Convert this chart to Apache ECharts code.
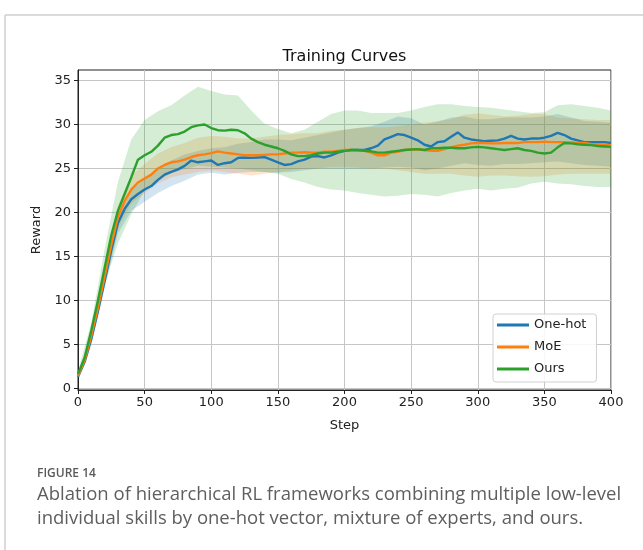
<!DOCTYPE html>
<html>
<head>
<meta charset="utf-8">
<script src="https://cdn.jsdelivr.net/npm/echarts@6.0.0/dist/echarts.min.js"></script>
<style>
html,body{margin:0;padding:0;background:#fff;}
#chart{width:643px;height:550px;}
</style>
</head>
<body>
<div id="chart"></div>
<script>
// ---- data ----
const steps = [0,5,10,15,20,25,30,35,40,45,50,55,60,65,70,75,80,85,90,95,100,105,110,115,120,125,130,135,140,145,150,155,160,165,170,175,180,185,190,195,200,205,210,215,220,225,230,235,240,245,250,255,260,265,270,275,280,285,290,295,300,305,310,315,320,325,330,335,340,345,350,355,360,365,370,375,380,385,390,395,400];
const oneHot = [1.3,3.0,5.6,8.8,12.2,15.7,18.8,20.4,21.5,22.1,22.6,23.0,23.7,24.3,24.6,24.9,25.3,25.9,25.7,25.8,25.9,25.4,25.6,25.7,26.2,26.25,26.2,26.25,26.3,26.0,25.7,25.4,25.5,25.8,26.0,26.35,26.4,26.25,26.5,26.8,27.0,27.1,27.1,27.1,27.3,27.6,28.3,28.6,28.9,28.8,28.5,28.2,27.7,27.5,28.0,28.1,28.6,29.1,28.5,28.3,28.2,28.1,28.15,28.2,28.4,28.7,28.4,28.3,28.4,28.4,28.5,28.7,29.05,28.8,28.4,28.2,28.0,28.0,28.0,28.0,27.9];
const moe = [1.4,3.2,6.0,9.2,12.7,16.3,19.5,21.3,22.6,23.4,23.85,24.3,25.0,25.4,25.7,25.8,26.0,26.3,26.5,26.6,26.75,26.95,26.8,26.7,26.6,26.5,26.5,26.5,26.55,26.6,26.6,26.7,26.8,26.8,26.85,26.8,26.8,26.9,26.9,27.0,27.1,27.1,27.0,27.0,26.8,26.5,26.5,26.8,26.9,27.1,27.15,27.15,27.1,27.0,27.0,27.2,27.4,27.6,27.7,27.85,27.9,27.9,27.85,27.85,27.9,27.9,27.9,28.0,28.0,28.0,28.05,28.0,28.0,28.0,27.95,27.9,27.9,27.8,27.75,27.7,27.65];
const ours = [1.6,3.5,6.6,10.0,13.7,17.4,20.2,22.1,24.0,26.0,26.5,26.9,27.6,28.5,28.8,28.9,29.2,29.7,29.9,30.0,29.6,29.35,29.3,29.4,29.35,29.0,28.4,28.0,27.7,27.5,27.3,27.0,26.6,26.4,26.4,26.5,26.7,26.8,26.8,26.9,27.0,27.1,27.1,27.0,26.95,26.8,26.8,26.9,27.0,27.1,27.15,27.2,27.1,27.3,27.3,27.35,27.35,27.3,27.3,27.4,27.45,27.4,27.3,27.2,27.1,27.2,27.3,27.1,27.0,26.8,26.7,26.8,27.4,27.9,27.85,27.75,27.7,27.65,27.55,27.5,27.45];

const bandSteps = [0,10,20,30,40,50,60,70,80,90,100,110,120,130,140,150,160,170,180,190,200,210,220,230,240,250,260,270,280,290,300,310,320,330,340,350,360,370,380,390,400];
const oneHotUpper = [1.5,6.1,12.8,19.5,22.5,23.8,25.0,25.9,26.6,27.0,27.3,27.4,27.8,28.0,28.3,28.3,28.2,28.5,28.8,29.1,29.4,29.6,29.8,30.3,30.9,30.7,30.0,30.3,30.8,30.9,30.6,30.6,30.8,30.8,30.8,30.9,31.2,30.8,30.4,30.3,30.2];
const oneHotLower = [1.1,5.0,11.4,17.6,20.2,21.2,22.2,23.0,23.6,24.3,24.5,24.3,24.5,24.6,24.6,24.5,24.6,24.8,25.0,25.0,25.0,25.0,25.0,25.1,25.2,25.1,24.8,25.0,25.3,25.6,25.4,25.3,25.5,25.5,25.6,25.7,25.8,25.6,25.4,25.3,25.2];
const moeUpper = [1.6,6.5,13.6,20.8,24.2,25.5,26.7,27.4,27.9,28.5,28.7,28.6,28.4,28.4,28.6,28.8,28.9,29.0,29.0,29.3,29.4,29.6,29.7,29.7,29.8,30.0,30.2,30.4,30.6,31.1,31.25,31.1,30.9,31.0,31.2,31.2,30.8,30.7,30.6,30.5,30.5];
const moeLower = [1.2,5.5,11.8,18.2,21.0,22.2,23.3,24.0,24.3,24.6,24.8,24.6,24.4,24.2,24.4,24.6,24.8,25.0,25.0,25.2,25.2,25.1,25.0,25.0,24.8,24.6,24.4,24.4,24.4,24.2,24.05,24.2,24.2,24.1,24.05,24.1,24.3,24.4,24.4,24.4,24.4];
const oursUpper = [2.0,7.5,15.8,23.5,28.3,30.5,31.5,32.2,33.3,34.3,33.8,33.4,33.3,31.6,30.1,29.5,29.0,29.4,30.3,31.2,31.6,31.6,31.3,31.3,31.3,31.6,32.0,32.3,32.3,32.1,32.0,31.9,31.7,31.5,31.3,31.4,32.2,32.3,32.1,31.9,31.6];
const oursLower = [1.2,5.8,11.8,16.5,19.8,22.5,23.6,24.5,24.9,25.3,25.2,25.1,25.0,24.8,24.6,24.4,23.8,23.4,22.9,22.6,22.5,22.2,22.0,21.8,21.9,22.1,22.0,21.8,22.2,22.5,22.7,22.5,22.7,22.8,23.3,23.5,23.3,23.2,23.0,22.9,22.9];

const seriesNames = ['One-hot','MoE','Ours'];
const xTicks = [0,50,100,150,200,250,300,350,400];
const yTicks = [0,5,10,15,20,25,30,35];

// ---- chart ----
const colors = ['#1f77b4','#ff7f0e','#2ca02c'];
const fills = ['rgba(31,119,180,0.2)','rgba(255,127,14,0.2)','rgba(44,160,44,0.2)'];
const means = [oneHot, moe, ours];
const uppers = [oneHotUpper, moeUpper, oursUpper];
const lowers = [oneHotLower, moeLower, oursLower];
const FONT = 'DejaVu Sans';

const series = [];
for (let k = 0; k < 3; k++) {
  const up = uppers[k], lo = lowers[k], fill = fills[k];
  series.push({
    name: seriesNames[k] + ' band', type: 'custom', silent: true, z: 1, clip: true,
    data: [[bandSteps[0], lo[0]]],
    renderItem: function (params, api) {
      const pts = [];
      for (let i = 0; i < bandSteps.length; i++) pts.push(api.coord([bandSteps[i], up[i]]));
      for (let i = bandSteps.length - 1; i >= 0; i--) pts.push(api.coord([bandSteps[i], lo[i]]));
      return {type: 'polygon', shape: {points: pts}, style: {fill: fill, stroke: null}};
    }
  });
}
for (let k = 0; k < 3; k++) {
  series.push({
    name: seriesNames[k], type: 'line',
    data: steps.map((x, i) => [x, means[k][i]]),
    symbol: 'none', lineStyle: {color: colors[k], width: 2.4}, itemStyle: {color: colors[k]},
    z: 3 + k
  });
}

const chart = echarts.init(document.getElementById('chart'), null, {renderer: 'canvas'});
chart.setOption({
  animation: false,
  backgroundColor: '#fff',
  grid: {left: 78, right: 32, top: 70, bottom: 160, show: true, borderColor: '#222', borderWidth: 1, backgroundColor: 'transparent'},
  xAxis: {
    type: 'value', min: 0, max: 400, interval: 50,
    axisLine: {show: true, onZero: false, lineStyle: {color: '#222', width: 1}},
    axisTick: {show: true, length: 4, lineStyle: {color: '#222'}, customValues: xTicks},
    axisLabel: {color: '#222', fontSize: 13, fontFamily: FONT, margin: 6, customValues: xTicks},
    splitLine: {show: true, lineStyle: {color: '#c6c6c6', width: 1}},
    name: 'Step', nameLocation: 'middle', nameGap: 29,
    nameTextStyle: {color: '#222', fontSize: 13, fontFamily: FONT}
  },
  yAxis: {
    type: 'value', min: -0.2, max: 36.2,
    axisLine: {show: true, onZero: false, lineStyle: {color: '#222', width: 1}},
    axisTick: {show: true, length: 4, lineStyle: {color: '#222'}, customValues: yTicks},
    axisLabel: {color: '#222', fontSize: 13, fontFamily: FONT, margin: 7, customValues: yTicks},
    splitLine: {show: true, lineStyle: {color: '#c6c6c6', width: 1}},
    name: 'Reward', nameLocation: 'middle', nameGap: 33, nameRotate: 90,
    nameTextStyle: {color: '#222', fontSize: 13, fontFamily: FONT}
  },
  legend: {
    data: seriesNames.map((n, k) => ({name: n, icon: 'rect', itemStyle: {color: colors[k]}})),
    orient: 'vertical', left: 493, top: 314,
    itemWidth: 32, itemHeight: 3, itemGap: 8, itemTextGap: 10,
    padding: [4, 10, 6, 4],
    backgroundColor: 'rgba(255,255,255,0.85)', borderColor: '#d0d0d0', borderWidth: 1, borderRadius: 3,
    textStyle: {color: '#222', fontSize: 13, fontFamily: FONT, lineHeight: 14}
  },
  series: series,
  graphic: [
    {type: 'line', shape: {x1: 5, y1: 15, x2: 643, y2: 15}, style: {stroke: '#cfcfcf', lineWidth: 1.5}, silent: true},
    {type: 'line', shape: {x1: 5, y1: 15, x2: 5, y2: 550}, style: {stroke: '#cfcfcf', lineWidth: 1.5}, silent: true},
    {type: 'text', x: 344.5, y: 57, style: {text: 'Training Curves', fill: '#111', font: '16px "DejaVu Sans"', textAlign: 'center', textVerticalAlign: 'middle'}},
    {type: 'text', x: 37, y: 474, style: {text: 'FIGURE 14', fill: '#5a5a5a', font: '600 12px "Open Sans"', textAlign: 'left', textVerticalAlign: 'middle'}},
    {type: 'text', x: 37, y: 495, style: {text: 'Ablation of hierarchical RL frameworks combining multiple low-level', fill: '#5e5e5e', font: '18.5px "Open Sans"', textAlign: 'left', textVerticalAlign: 'middle'}},
    {type: 'text', x: 37, y: 519, style: {text: 'individual skills by one-hot vector, mixture of experts, and ours.', fill: '#5e5e5e', font: '18.5px "Open Sans"', textAlign: 'left', textVerticalAlign: 'middle'}}
  ]
});
</script>
</body>
</html>
